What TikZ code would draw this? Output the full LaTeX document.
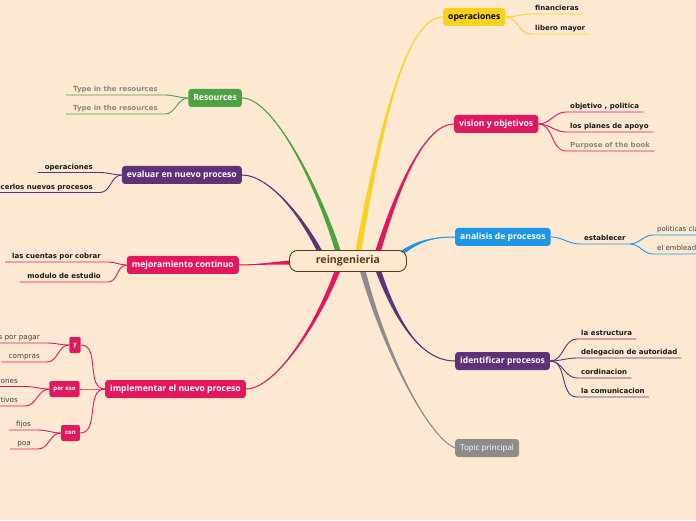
\documentclass[tikz,border=0pt]{standalone}
\usepackage{fontspec}
\setmainfont{Open Sans}
\newfontfamily\leaffont{DejaVu Sans}
\usetikzlibrary{positioning,calc}

\definecolor{paper}{RGB}{253,232,210}
\definecolor{mmyellow}{RGB}{249,210,30}
\definecolor{mmpink}{RGB}{226,24,95}
\definecolor{mmblue}{RGB}{30,150,230}
\definecolor{mmpurple}{RGB}{94,49,121}
\definecolor{mmgreen}{RGB}{77,162,65}
\definecolor{mmgray}{RGB}{140,140,140}
\definecolor{mmbrown}{RGB}{92,58,18}
\definecolor{hint}{RGB}{140,136,120}

% tapered main branch: colour, start, control 1, control 2, end, half width
\newcommand{\trunk}[6]{%
  \fill[#1] ($(#2)-#6$) .. controls ($(#3)-0.6*#6$) and (#4) .. (#5)
    .. controls (#4) and ($(#3)+0.6*#6$) .. ($(#2)+#6$) -- cycle;
  \draw[#1, line width=1pt] (#2) .. controls (#3) and (#4) .. (#5);}

\begin{document}
\begin{tikzpicture}[x=1pt, y=1pt,
  hubbox/.style={draw=mmbrown, line width=0.9pt, fill=paper, rounded corners=8pt,
    minimum width=117pt, minimum height=21pt, text=mmbrown,
    font=\fontsize{10.6}{12}\selectfont\bfseries},
  topic/.style={fill=#1, rounded corners=3pt, minimum height=18pt, inner xsep=5pt,
    text height=6.5pt, text depth=1.8pt, text=white,
    font=\fontsize{8.6}{10}\selectfont\bfseries},
  sub/.style={fill=mmpink, rounded corners=2pt, minimum height=16pt, inner xsep=4pt,
    text height=4.5pt, text depth=1pt, text=white,
    font=\fontsize{6}{7}\selectfont\bfseries},
  leaf/.style={anchor=south west, inner xsep=4pt, inner ysep=1.8pt,
    text height=5pt, text depth=1.2pt, text=black!90,
    font=\leaffont\fontsize{7}{8}\selectfont\bfseries},
  leafl/.style={leaf, anchor=south east, inner xsep=7pt},
  note/.style={leafl, text=black!75, font=\leaffont\fontsize{7.2}{8}\selectfont},
  twig/.style={draw=#1, line width=0.9pt}]

\useasboundingbox (0,0) rectangle (696,520);
\clip (0,0) rectangle (696,520);
\fill[paper] (0,0) rectangle (696,520);

% main topics
\node[topic=mmyellow, text=black, anchor=west] (oper) at (443,503) {operaciones};
\node[topic=mmpink, anchor=west] (vis) at (454,396) {vision y objetivos};
\node[topic=mmblue, anchor=west] (ana) at (455,283) {analisis de procesos};
\node[topic=mmpurple, anchor=west] (ide) at (455,159) {identificar procesos};
\node[topic=mmgray, anchor=west, font=\fontsize{8}{10}\selectfont] (tp) at (455,72) {Topic principal};
\node[topic=mmgreen, anchor=east] (res) at (242,422) {Resources};
\node[topic=mmpurple, anchor=east] (eva) at (242,345) {evaluar en nuevo proceso};
\node[topic=mmpink, anchor=east] (mej) at (239,255) {mejoramiento continuo};
\node[topic=mmpink, anchor=east] (imp) at (246,131) {implementar el nuevo proceso};

\trunk{mmgreen}{340,262}{322,325}{275,422}{res.east}{(3,0)}
\trunk{mmpurple}{323,262}{305,300}{270,345}{eva.east}{(3,0)}
\trunk{mmyellow}{357,262}{380,390}{405,503}{oper.west}{(3,0)}
\trunk{mmpink}{376,262}{398,335}{425,396}{vis.west}{(3,0)}
\trunk{mmblue}{395,262}{415,278}{430,283}{ana.west}{(0,3)}
\trunk{mmpink}{300,258}{275,257}{255,255}{mej.east}{(0,2.5)}
\trunk{mmpink}{340,256}{318,195}{275,131}{imp.east}{(3,0)}
\trunk{mmgray}{361,256}{380,180}{425,85}{tp.west}{(3,0)}
\trunk{mmpurple}{376,256}{395,200}{420,159}{ide.west}{(3,0)}

\node[hubbox] (hub) at (348,259) {reingenieria};

% right side leaves
\node[leaf] (fin) at (531,506) {financieras};
\node[leaf] (lib) at (531,486) {libero mayor};
\node[leaf] (obj) at (566,408) {objetivo , politica};
\node[leaf] (pla) at (566,388) {los planes de apoyo};
\node[leaf, text=hint] (pur) at (566,369) {Purpose of the book};
\node[leaf] (est) at (580,276) {establecer};
\node[leaf, font=\leaffont\fontsize{7}{8}\selectfont, text=black!75] (pol) at (653,285) {politicas claras};
\node[leaf, font=\leaffont\fontsize{7}{8}\selectfont, text=black!75] (emb) at (653,266) {el embleado};
\node[leaf] (estr) at (577,181) {la estructura};
\node[leaf] (del) at (577,162) {delegacion de autoridad};
\node[leaf] (cor) at (577,142) {cordinacion};
\node[leaf] (com) at (577,123) {la comunicacion};

\draw[twig=mmyellow] (oper.east) to[out=0,in=180] (fin.south west) -- (fin.south east);
\draw[twig=mmyellow] (oper.east) to[out=0,in=180] (lib.south west) -- (lib.south east);
\draw[twig=mmpink] (vis.east) to[out=0,in=180] (obj.south west) -- (obj.south east);
\draw[twig=mmpink] (vis.east) to[out=0,in=180] (pla.south west) -- (pla.south east);
\draw[twig=mmpink] (vis.east) to[out=0,in=180] (pur.south west) -- (pur.south east);
\draw[twig=mmblue] (ana.east) to[out=0,in=180] (est.south west) -- (est.south east);
\draw[twig=mmblue] (est.south east) to[out=0,in=180] (pol.south west) -- (pol.south east);
\draw[twig=mmblue] (est.south east) to[out=0,in=180] (emb.south west) -- (emb.south east);
\draw[twig=mmpurple] (ide.east) to[out=0,in=180] (estr.south west) -- (estr.south east);
\draw[twig=mmpurple] (ide.east) to[out=0,in=180] (del.south west) -- (del.south east);
\draw[twig=mmpurple] (ide.east) to[out=0,in=180] (cor.south west) -- (cor.south east);
\draw[twig=mmpurple] (ide.east) to[out=0,in=180] (com.south west) -- (com.south east);

% left side leaves
\node[leafl, text=hint] (tr1) at (165,425) {Type in the resources};
\node[leafl, text=hint] (tr2) at (165,406) {Type in the resources};
\node[leafl] (ope) at (100,347.5) {operaciones};
\node[leafl] (hac) at (100,327.5) {conocerlos nuevos procesos};
\node[leafl] (cue) at (108,258) {las cuentas por cobrar};
\node[leafl] (mod) at (108,238) {modulo de estudio};

\draw[twig=mmgreen] (res.west) to[out=180,in=0] (tr1.south east) -- (tr1.south west);
\draw[twig=mmgreen] (res.west) to[out=180,in=0] (tr2.south east) -- (tr2.south west);
\draw[twig=mmpurple] (eva.west) to[out=180,in=0] (ope.south east) -- (ope.south west);
\draw[twig=mmpurple] (eva.west) to[out=180,in=0] (hac.south east) -- (hac.south west);
\draw[twig=mmpink] (mej.west) to[out=180,in=0] (cue.south east) -- (cue.south west);
\draw[twig=mmpink] (mej.west) to[out=180,in=0] (mod.south east) -- (mod.south west);

% implementar el nuevo proceso
\node[sub] (yy) at (75,175) {y};
\node[sub] (poreso) at (64.5,131) {por eso};
\node[sub] (con) at (70.5,87) {con};
\draw[twig=mmpink] (imp.west) to[out=180,in=0] (yy.east);
\draw[twig=mmpink] (imp.west) to[out=180,in=0] (poreso.east);
\draw[twig=mmpink] (imp.west) to[out=180,in=0] (con.east);

\node[note] (pag) at (47,177) {cuentas por pagar};
\node[note] (comp) at (47,158) {compras};
\node[note] (ion) at (25,133.5) {operaciones};
\node[note] (tiv) at (25,114) {objetivos};
\node[note] (fij) at (38,90) {fijos};
\node[note] (poa) at (38,71) {poa};

\draw[twig=mmpink] (yy.west) to[out=180,in=0] (pag.south east) -- (pag.south west);
\draw[twig=mmpink] (yy.west) to[out=180,in=0] (comp.south east) -- (comp.south west);
\draw[twig=mmpink] (poreso.west) to[out=180,in=0] (ion.south east) -- (ion.south west);
\draw[twig=mmpink] (poreso.west) to[out=180,in=0] (tiv.south east) -- (tiv.south west);
\draw[twig=mmpink] (con.west) to[out=180,in=0] (fij.south east) -- (fij.south west);
\draw[twig=mmpink] (con.west) to[out=180,in=0] (poa.south east) -- (poa.south west);
\end{tikzpicture}
\end{document}
